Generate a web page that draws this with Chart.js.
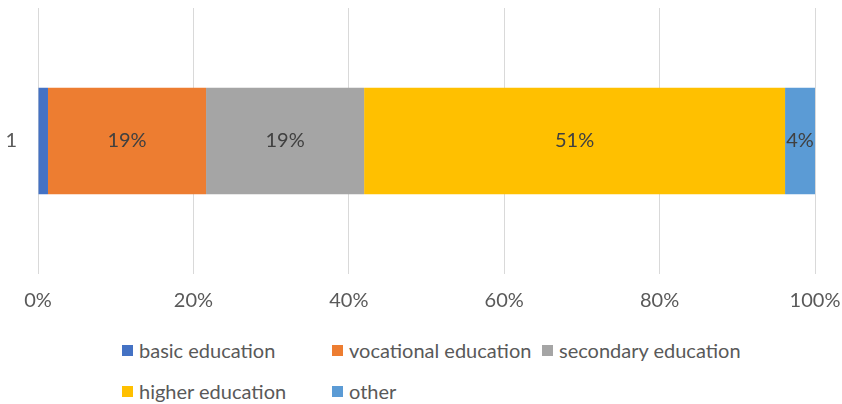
<!DOCTYPE html>
<html>
<head>
<meta charset="utf-8">
<script src="https://cdn.jsdelivr.net/npm/chart.js@4/dist/chart.umd.min.js"></script>
<style>
  body { margin: 0; background: #fff; }
  #wrap { position: relative; width: 842px; height: 404px; }
  #box { position: absolute; left: 0; top: 0; width: 842px; height: 320px; }
  #legend {
    position: absolute; left: 122px; top: 337px;
    display: grid; grid-template-columns: 210px 210px auto; row-gap: 15px;
    font-family: Lato, "Open Sans", sans-serif; font-size: 20px; color: #595959;
  }
  #legend div { display: flex; align-items: center; white-space: nowrap; height: 26px; }
  #legend span { display: inline-block; width: 11px; height: 11px; margin-right: 6px; }
</style>
</head>
<body>
<div id="wrap">
  <div id="box"><canvas id="educationChart"></canvas></div>
  <div id="legend"></div>
</div>
<script>
const categories = ["1"];
const seriesNames = ["basic education", "vocational education", "secondary education", "higher education", "other"];
const seriesValues = [1.2, 19, 19, 50.6, 3.6];
const seriesColors = ["#4472C4", "#ED7D31", "#A5A5A5", "#FFC000", "#5B9BD5"];
const tickLabels = ["0%", "20%", "40%", "60%", "80%", "100%"];

// the bar is stacked to 100%, so each segment is its share of the total
const total = seriesValues.reduce((a, b) => a + b, 0);

const datasets = seriesNames.map((name, i) => ({
    label: name,
    data: [seriesValues[i] / total * 100],
    raw: seriesValues[i],
    backgroundColor: seriesColors[i],
    barPercentage: 0.4,
    categoryPercentage: 1
}));

const font = { family: "Lato, 'Open Sans', sans-serif", size: 20 };

// value labels in the middle of each segment (skipped for the tiny first one)
const segmentLabels = {
    id: "segmentLabels",
    afterDatasetsDraw(chart) {
        const ctx = chart.ctx;
        ctx.save();
        ctx.font = "20px Lato, 'Open Sans', sans-serif";
        ctx.fillStyle = "#404040";
        ctx.textAlign = "center";
        ctx.textBaseline = "middle";
        chart.data.datasets.forEach((ds, i) => {
            if (ds.raw < 2) return;
            const bar = chart.getDatasetMeta(i).data[0];
            ctx.fillText(Math.round(ds.raw) + "%", (bar.x + bar.base) / 2, bar.y);
        });
        ctx.restore();
    }
};

function noPadding(s) {
    s.paddingLeft = 0;
    s.paddingRight = 0;
    s.paddingTop = 0;
    s.paddingBottom = 0;
}

new Chart(document.getElementById("educationChart"), {
    type: "bar",
    data: { labels: categories, datasets: datasets },
    options: {
        indexAxis: "y",
        responsive: true,
        maintainAspectRatio: false,
        animation: false,
        layout: { padding: { top: 8, right: 27, left: 0, bottom: 0 } },
        plugins: { legend: { display: false }, tooltip: { enabled: false } },
        scales: {
            x: {
                stacked: true,
                min: 0,
                max: 100,
                grid: { color: "#D9D9D9", lineWidth: 1, drawTicks: false },
                border: { display: false },
                ticks: {
                    stepSize: 20,
                    padding: 15,
                    color: "#595959",
                    font: font,
                    callback: (v, i) => tickLabels[i]
                },
                afterFit: s => { s.height = 46; noPadding(s); }
            },
            y: {
                stacked: true,
                grid: { display: false, drawTicks: false },
                border: { display: false },
                ticks: { padding: 21, color: "#595959", font: font },
                afterFit: s => { s.width = 38; noPadding(s); }
            }
        }
    },
    plugins: [segmentLabels]
});

const legend = document.getElementById("legend");
seriesNames.forEach((name, i) => {
    const item = document.createElement("div");
    item.innerHTML = '<span style="background:' + seriesColors[i] + '"></span>' + name;
    legend.appendChild(item);
});
</script>
</body>
</html>
